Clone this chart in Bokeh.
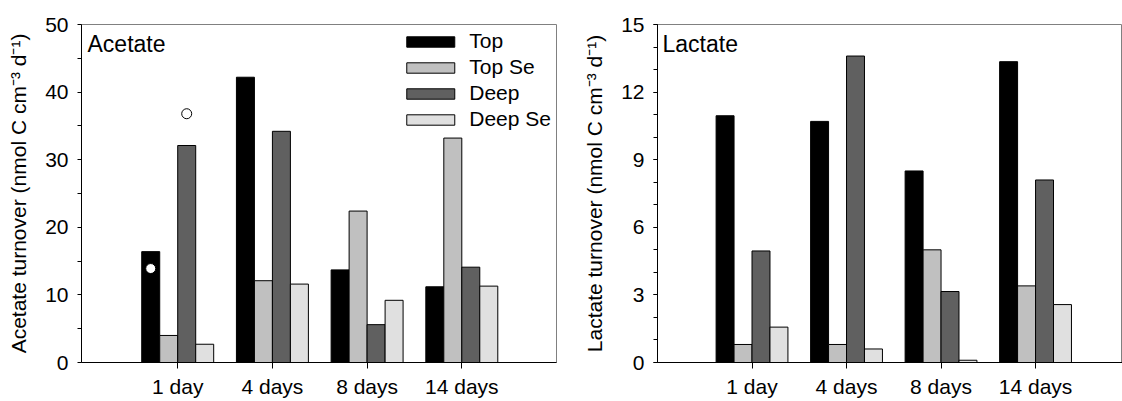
from bokeh.plotting import figure
from bokeh.models import ColumnDataSource, FixedTicker, Label, Legend, LegendItem, Range1d
from bokeh.layouts import row
from bokeh.embed import file_html
from bokeh.resources import INLINE

# Incubation times (x categories)
days = ["1 day", "4 days", "8 days", "14 days"]
series_names = ["Top", "Top Se", "Deep", "Deep Se"]

# Acetate turnover, nmol C cm-3 d-1
acetate_top = [16.4, 42.2, 13.7, 11.2]
acetate_top_se = [4.0, 12.1, 22.4, 33.2]
acetate_deep = [32.1, 34.2, 5.6, 14.1]
acetate_deep_se = [2.7, 11.6, 9.2, 11.3]

# Single replicate points shown for day 1 (Top and Deep)
acetate_point_series = ["Top", "Deep"]
acetate_point_day = ["1 day", "1 day"]
acetate_point_value = [13.9, 36.8]

# Lactate turnover, nmol C cm-3 d-1
lactate_top = [10.95, 10.7, 8.5, 13.35]
lactate_top_se = [0.8, 0.8, 5.0, 3.4]
lactate_deep = [4.95, 13.6, 3.15, 8.1]
lactate_deep_se = [1.57, 0.6, 0.1, 2.57]

FONT = "Liberation Sans"
COLORS = ["#000000", "#c0c0c0", "#606060", "#e0e0e0"]
OFFSETS = [-0.285, -0.095, 0.095, 0.285]
BAR_W = 0.19
DAY_POS = {d: i + 1 for i, d in enumerate(days)}


def make_panel(title, ylabel, series, y_max, y_major, y_minor, x_start, x_end,
               width, border_left, border_right, border_top, border_bottom,
               title_x, with_legend):
    p = figure(width=width, height=401,
               x_range=Range1d(x_start, x_end), y_range=Range1d(0, y_max),
               output_backend="svg", toolbar_location=None,
               min_border_left=border_left, min_border_right=border_right,
               min_border_top=border_top, min_border_bottom=border_bottom,
               background_fill_color="white", border_fill_color="white")
    p.xgrid.visible = False
    p.ygrid.visible = False
    p.outline_line_color = "#808080"
    p.outline_line_width = 1

    renderers = []
    for name, values, color, off in zip(series_names, series, COLORS, OFFSETS):
        src = ColumnDataSource(dict(x=[DAY_POS[d] + off for d in days], top=values))
        r = p.vbar(x="x", top="top", bottom=0, width=BAR_W, source=src,
                   fill_color=color, line_color="black", line_width=1)
        renderers.append((name, r))

    # x axis
    xa = p.xaxis[0]
    xa.ticker = FixedTicker(ticks=list(range(1, len(days) + 1)))
    xa.major_label_overrides = {i + 1: d for i, d in enumerate(days)}
    xa.major_tick_in = 0
    xa.major_tick_out = 6
    xa.minor_tick_out = 0
    xa.minor_tick_in = 0
    xa.major_label_standoff = 6
    xa.major_label_text_font = FONT
    xa.major_label_text_font_size = "21px"
    xa.major_label_text_color = "black"
    xa.axis_line_color = "black"
    xa.major_tick_line_color = "black"

    # y axis
    ya = p.yaxis[0]
    ya.ticker = FixedTicker(ticks=y_major, minor_ticks=y_minor)
    ya.major_tick_in = 0
    ya.major_tick_out = 4
    ya.minor_tick_in = 0
    ya.minor_tick_out = 4
    ya.major_label_standoff = 9
    ya.major_label_text_font = FONT
    ya.major_label_text_font_size = "21px"
    ya.major_label_text_color = "black"
    ya.axis_line_color = "black"
    ya.major_tick_line_color = "black"
    ya.minor_tick_line_color = "black"
    ya.axis_label = ylabel
    ya.axis_label_text_font = FONT
    ya.axis_label_text_font_size = "21px"
    ya.axis_label_text_font_style = "normal"
    ya.axis_label_text_color = "black"
    ya.axis_label_standoff = 12

    p.add_layout(Label(x=title_x, y=319, x_units="screen", y_units="screen",
                       text=title, text_font=FONT, text_font_size="23px",
                       text_color="black", text_baseline="alphabetic"))

    if with_legend:
        legend = Legend(items=[LegendItem(label=n, renderers=[r]) for n, r in renderers],
                        location="top_right", orientation="vertical",
                        glyph_width=60, glyph_height=13, label_standoff=9,
                        label_width=77, spacing=2, padding=6, margin=5,
                        border_line_color=None, background_fill_alpha=0,
                        label_text_font=FONT, label_text_font_size="21px",
                        label_text_color="black")
        p.add_layout(legend)
    return p


acetate = make_panel("Acetate", "Acetate turnover (nmol C cm\u207b\u00b3 d\u207b\u00b9)",
                     [acetate_top, acetate_top_se, acetate_deep, acetate_deep_se],
                     50, [0, 10, 20, 30, 40, 50], [5, 15, 25, 35, 45],
                     -0.016, 5.0, 580, 81, 24, 24, 37, 6, True)

# Replicate points drawn over the day-1 bars
pt_x = [DAY_POS[d] + OFFSETS[series_names.index(s)]
        for d, s in zip(acetate_point_day, acetate_point_series)]
acetate.scatter(x=pt_x, y=acetate_point_value, size=10, marker="circle",
                fill_color="white", line_color="black", line_width=1)

lactate = make_panel("Lactate", "Lactate turnover (nmol C cm\u207b\u00b3 d\u207b\u00b9)",
                     [lactate_top, lactate_top_se, lactate_deep, lactate_deep_se],
                     15, [0, 3, 6, 9, 12, 15], list(range(0, 16)),
                     0.0, 4.92, 542, 77, 0, 22, 39, 5, False)

layout = row(acetate, lactate, spacing=0)
open("out.html", "w").write(file_html(layout, INLINE))
